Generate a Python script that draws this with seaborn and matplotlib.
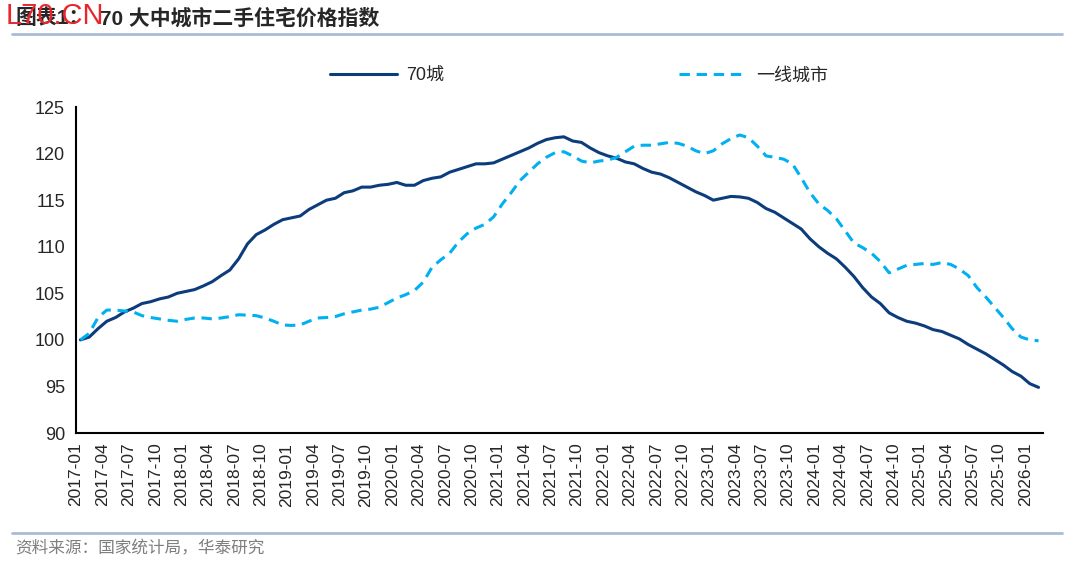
import numpy as np
import pandas as pd
import matplotlib
matplotlib.use('Agg')
import matplotlib.pyplot as plt
import seaborn as sns
from matplotlib.lines import Line2D

# 月度数据：2017-01 至 2026-02
months = pd.period_range('2017-01', '2026-02', freq='M').strftime('%Y-%m').tolist()

city70 = [
    100.0, 100.3, 101.2, 102.0, 102.4, 103.0, 103.4, 103.9, 104.1, 104.4,
    104.6, 105.0, 105.2, 105.4, 105.8, 106.25, 106.9, 107.5, 108.7, 110.3,
    111.3, 111.8, 112.4, 112.9, 113.1, 113.3, 114.0, 114.5, 115.0, 115.2,
    115.8, 116.0, 116.4, 116.4, 116.6, 116.7, 116.9, 116.6, 116.6, 117.1,
    117.35, 117.5, 118.0, 118.3, 118.6, 118.9, 118.9, 119.0, 119.4, 119.8,
    120.2, 120.6, 121.1, 121.5, 121.7, 121.8, 121.35, 121.2, 120.6, 120.1,
    119.75, 119.5, 119.1, 118.9, 118.4, 118.0, 117.8, 117.4, 116.9, 116.4,
    115.9, 115.5, 115.0, 115.2, 115.4, 115.35, 115.2, 114.75, 114.1, 113.7,
    113.1, 112.5, 111.9, 110.85, 110.0, 109.3, 108.7, 107.8, 106.8, 105.6,
    104.6, 103.9, 102.9, 102.4, 102.0, 101.8, 101.5, 101.1, 100.9, 100.5,
    100.1, 99.5, 99.0, 98.5, 97.9, 97.3, 96.6, 96.1, 95.3, 94.9,
]

tier1 = [
    100.0, 100.7, 102.4, 103.2, 103.2, 103.1, 103.0, 102.6, 102.4, 102.25,
    102.1, 102.0, 102.2, 102.35, 102.35, 102.25, 102.35, 102.5, 102.7, 102.65,
    102.6, 102.35, 102.0, 101.6, 101.55, 101.6, 102.0, 102.35, 102.4, 102.5,
    102.8, 103.0, 103.2, 103.3, 103.5, 104.0, 104.5, 104.85, 105.3, 106.2,
    107.8, 108.6, 109.3, 110.5, 111.4, 112.0, 112.4, 113.2, 114.6, 115.8,
    117.1, 118.0, 118.9, 119.6, 120.1, 120.2, 119.75, 119.2, 119.0, 119.2,
    119.3, 119.6, 120.2, 120.8, 120.9, 120.9, 121.05, 121.2, 121.1, 120.8,
    120.3, 120.0, 120.3, 121.05, 121.6, 122.0, 121.7, 120.8, 119.75, 119.6,
    119.4, 118.9, 117.4, 115.8, 114.6, 113.9, 113.0, 111.7, 110.4, 109.9,
    109.3, 108.4, 107.2, 107.6, 108.0, 108.1, 108.2, 108.1, 108.3, 108.1,
    107.6, 106.9, 105.6, 104.6, 103.5, 102.4, 101.2, 100.3, 100.0, 99.9,
]

tick_labels = months[::3]  # 2017-01 ... 2026-01

df = pd.DataFrame({'月份': months, '70城': city70, '一线城市': tier1})
df['pos'] = np.arange(len(df)) + 0.5  # 每个月居于其刻度区间中央

sns.set_style('white')
plt.rcParams['font.family'] = ['Liberation Sans', 'Noto Sans CJK SC']

fig = plt.figure(figsize=(10.8, 5.65), dpi=100)
ax = fig.add_axes([0.0704, 0.2336, 0.8953, 0.5770])

sns.lineplot(data=df, x='pos', y='70城', ax=ax, color='#0c3c7c', lw=2.2, label='70城')
sns.lineplot(data=df, x='pos', y='一线城市', ax=ax, color='#00b0f0', lw=2.2,
             linestyle=(0, (3.4, 2.2)), label='一线城市')

ax.set_xlim(0, len(df))
ax.set_ylim(90, 125)
ax.set_yticks(range(90, 126, 5))
ax.set_xticks(np.arange(0, len(df), 3))
ax.set_xticklabels(tick_labels, rotation=90)
ax.set_xlabel('')
ax.set_ylabel('')

ax.tick_params(axis='both', direction='out', length=5, width=1.2, color='black')
ax.tick_params(axis='x', labelsize=12.5, pad=2)
ax.tick_params(axis='y', labelsize=13, pad=3)
ax.spines[['top', 'right']].set_visible(False)
for s in ['left', 'bottom']:
    ax.spines[s].set_color('black')
    ax.spines[s].set_linewidth(1.5)

handles, labels = ax.get_legend_handles_labels()
ax.legend(handles, labels, loc='center', bbox_to_anchor=(0.536, 0.8655),
          bbox_transform=fig.transFigure, ncol=2, frameon=False, fontsize=13,
          handlelength=3.7, handletextpad=0.55, columnspacing=13.0)

# 标题、分隔线、来源
fig.text(0.014, 1 - 18 / 565, '图表1：', fontsize=15,
         fontweight='bold', va='center', ha='left')
fig.text(0.093, 1 - 18 / 565, '70 大中城市二手住宅价格指数', fontsize=15,
         fontweight='bold', va='center', ha='left')
fig.text(0.005, 1 - 16 / 565, 'L70.CN', color='#e8262b', fontsize=21,
         va='center', ha='left', zorder=5)
fig.add_artist(Line2D([0.011, 0.983], [1 - 34 / 565] * 2, color='#a9bcd6', lw=2,
                      transform=fig.transFigure))
fig.add_artist(Line2D([0.011, 0.983], [1 - 533 / 565] * 2, color='#a9bcd6', lw=2,
                      transform=fig.transFigure))
fig.text(0.014, 1 - 548 / 565, '资料来源：国家统计局，华泰研究', color='#7f7f7f',
         fontsize=12, va='center', ha='left')

fig.savefig('out.png', dpi=100)
